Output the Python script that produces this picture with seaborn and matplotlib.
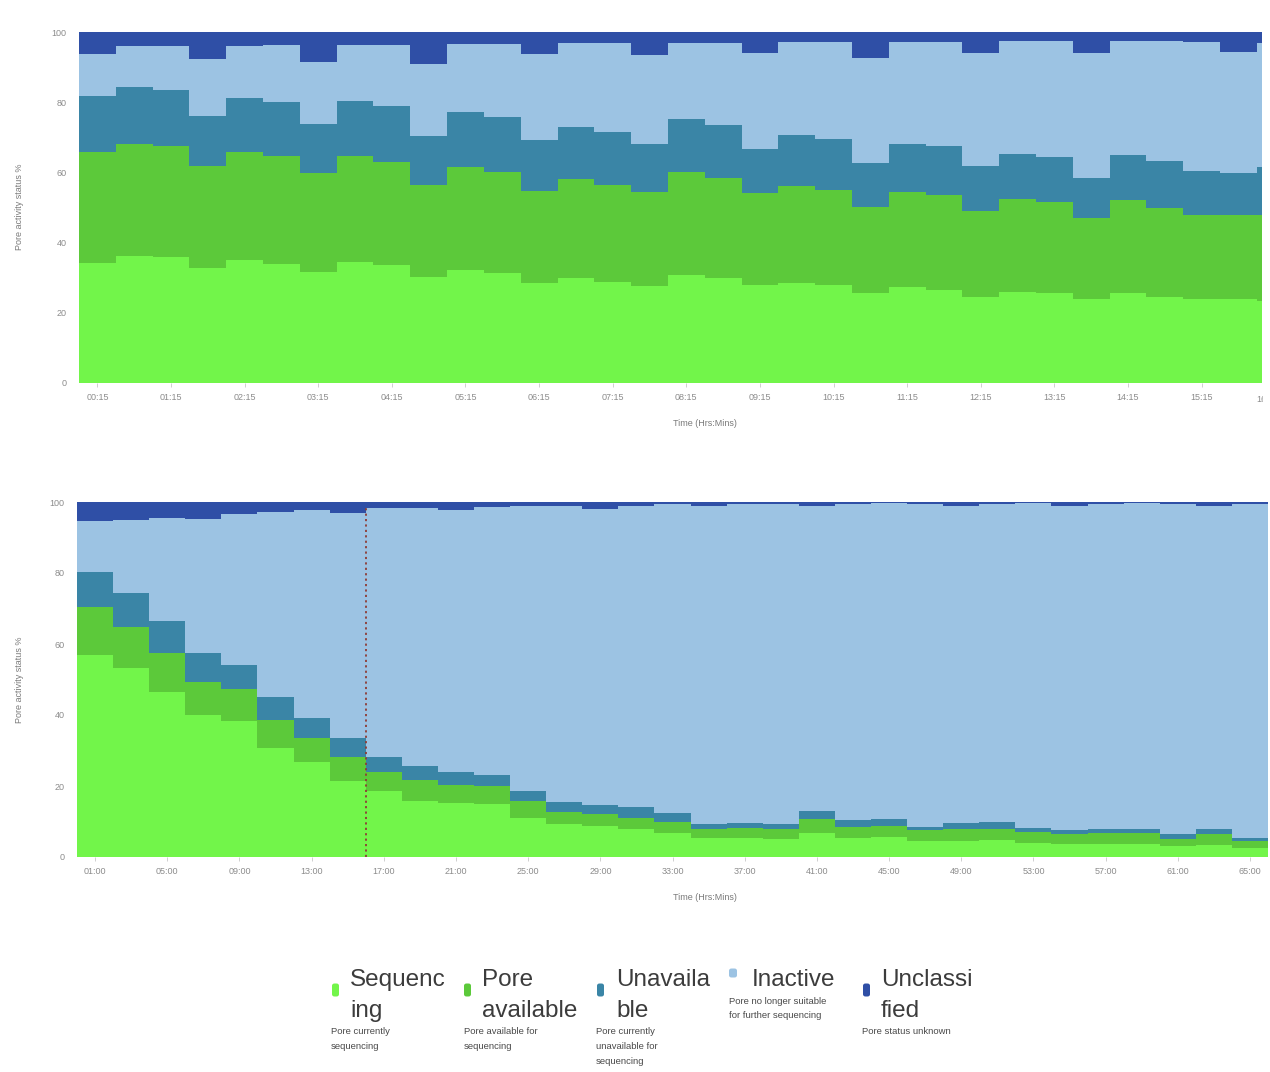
import numpy as np
import pandas as pd
import matplotlib
matplotlib.use("Agg")
import matplotlib.pyplot as plt
import seaborn as sns
from matplotlib.patches import FancyBboxPatch
from matplotlib.transforms import Bbox, TransformedBbox, blended_transform_factory

# ---------------------------------------------------------------- data
statuses = ["Sequencing", "Pore available", "Unavailable", "Inactive", "Unclassified"]
status_colors = ["#72f54a", "#5cc93a", "#3a85a6", "#9cc3e3", "#2f4fa6"]

# Run 1: 30-minute bins (bin centres in hours)
run1_centres = np.arange(0.25, 16.5, 0.5)
run1_sequencing = [34.3, 36.2, 35.9, 32.9, 35.1, 34.0, 31.7, 34.5, 33.6, 30.1, 32.1,
                   31.3, 28.4, 29.9, 28.9, 27.7, 30.7, 29.9, 28.0, 28.5, 27.8, 25.7,
                   27.3, 26.6, 24.5, 26.0, 25.7, 23.8, 25.7, 24.5, 23.8, 23.8, 23.5]
run1_available = [31.5, 31.9, 31.7, 29.0, 30.6, 30.8, 28.1, 30.1, 29.5, 26.2, 29.3,
                  28.7, 26.2, 28.2, 27.4, 26.6, 29.3, 28.6, 26.0, 27.6, 27.2, 24.5,
                  27.0, 26.9, 24.5, 26.3, 26.0, 23.1, 26.4, 25.3, 24.1, 24.1, 24.5]
run1_unavailable = [16.0, 16.3, 15.9, 14.3, 15.6, 15.2, 13.9, 15.6, 15.9, 14.2, 15.7,
                    15.7, 14.5, 14.8, 15.2, 13.7, 15.3, 15.1, 12.8, 14.6, 14.4, 12.6,
                    13.9, 14.0, 12.9, 13.0, 12.7, 11.4, 12.8, 13.4, 12.4, 11.8, 13.5]
run1_inactive = [11.8, 11.5, 12.5, 16.0, 14.7, 16.4, 17.8, 16.0, 17.2, 20.5, 19.6,
                 21.0, 24.5, 24.0, 25.4, 25.5, 21.7, 23.4, 27.1, 26.5, 27.8, 29.9,
                 29.0, 29.7, 32.2, 32.2, 33.1, 35.8, 32.6, 34.3, 36.9, 34.7, 35.5]
run1_unclassified = [6.4, 4.1, 4.0, 7.8, 4.0, 3.6, 8.5, 3.8, 3.8, 9.0, 3.3,
                     3.3, 6.4, 3.1, 3.1, 6.5, 3.0, 3.0, 6.1, 2.8, 2.8, 7.3,
                     2.8, 2.8, 5.9, 2.5, 2.5, 5.9, 2.5, 2.5, 2.8, 5.6, 3.0]
run1_ticks = ["00:15", "01:15", "02:15", "03:15", "04:15", "05:15", "06:15", "07:15",
              "08:15", "09:15", "10:15", "11:15", "12:15", "13:15", "14:15", "15:15",
              "16:15"]

# Run 2: 2-hour bins (bin centres in hours)
run2_centres = np.arange(1, 67, 2)
run2_sequencing = [56.9, 53.2, 46.6, 39.9, 38.2, 30.7, 26.8, 21.3, 18.5, 15.7, 15.3,
                   14.8, 11.0, 9.2, 8.7, 7.8, 6.8, 5.4, 5.4, 5.1, 6.8, 5.4,
                   5.7, 4.5, 4.5, 4.8, 4.0, 3.7, 3.7, 3.7, 3.1, 3.3, 2.6]
run2_available = [13.4, 11.7, 10.8, 9.4, 9.1, 7.8, 6.7, 6.8, 5.4, 6.1, 5.1,
                  5.1, 4.7, 3.4, 3.3, 3.2, 3.0, 2.4, 2.8, 2.9, 3.8, 3.1,
                  3.0, 3.0, 3.3, 3.2, 3.1, 2.9, 3.1, 3.1, 2.0, 3.1, 1.9]
run2_unavailable = [10.0, 9.5, 9.1, 8.1, 6.8, 6.7, 5.6, 5.4, 4.2, 3.8, 3.5,
                    3.3, 3.0, 2.8, 2.6, 3.2, 2.7, 1.4, 1.3, 1.4, 2.3, 1.8,
                    2.1, 1.0, 1.7, 1.8, 1.1, 1.0, 1.0, 1.0, 1.3, 1.6, 0.9]
run2_inactive = [14.4, 20.6, 29.1, 37.9, 42.4, 52.0, 58.6, 63.4, 70.3, 72.8, 73.9,
                 75.4, 80.1, 83.4, 83.5, 84.6, 87.0, 89.6, 90.0, 90.1, 85.9, 89.2,
                 88.8, 91.0, 89.4, 89.7, 91.4, 91.3, 91.7, 91.8, 93.1, 90.9, 94.1]
run2_unclassified = [5.3, 5.0, 4.4, 4.7, 3.5, 2.8, 2.3, 3.1, 1.6, 1.6, 2.2,
                     1.4, 1.2, 1.2, 1.9, 1.2, 0.5, 1.2, 0.5, 0.5, 1.2, 0.5,
                     0.4, 0.5, 1.1, 0.5, 0.4, 1.1, 0.5, 0.4, 0.5, 1.1, 0.5]
run2_ticks = ["01:00", "05:00", "09:00", "13:00", "17:00", "21:00", "25:00", "29:00",
              "33:00", "37:00", "41:00", "45:00", "49:00", "53:00", "57:00", "61:00",
              "65:00"]
run2_marker_hours = 16.0

legend_titles = ["Sequenc\ning", "Pore\navailable", "Unavaila\nble", "Inactive", "Unclassi\nfied"]
legend_notes = ["Pore currently\nsequencing", "Pore available for\nsequencing",
                "Pore currently\nunavailable for\nsequencing",
                "Pore no longer suitable\nfor further sequencing", "Pore status unknown"]

# ---------------------------------------------------------------- style
sns.set_style("white")
plt.rcParams["font.family"] = ["Liberation Sans", "DejaVu Sans"]

W, H = 1270, 1072
fig = plt.figure(figsize=(W / 100, H / 100), dpi=100)


def fx(px):
    return px / W


def fy(py):
    return 1 - py / H


palette = dict(zip(statuses, status_colors))
TICK_COLOR = "#8c8c8c"


def stacked_panel(ax, centres, width, shares, tick_pos, tick_labels, xmax):
    frame = pd.DataFrame({
        "time": np.tile(centres, len(statuses)),
        "status": np.repeat(statuses, len(centres)),
        "pct": np.concatenate(shares),
    })
    edges = [float(c - width / 2) for c in centres] + [float(centres[-1] + width / 2)]
    sns.histplot(frame, x="time", weights="pct", hue="status",
                 hue_order=statuses[::-1], palette=palette, bins=edges,
                 multiple="stack", element="bars", fill=True, alpha=1,
                 linewidth=0, legend=False, ax=ax)
    ax.set_xlim(0, xmax)
    ax.set_ylim(0, 100)
    ax.set_yticks([0, 20, 40, 60, 80, 100])
    ax.set_xticks(tick_pos)
    ax.set_xticklabels(tick_labels)
    ax.set_xlabel("")
    ax.set_ylabel("")
    for s in ax.spines.values():
        s.set_visible(False)
    ax.tick_params(axis="x", labelsize=6.5, colors=TICK_COLOR, length=3,
                   width=0.6, color="#c8c8c8", pad=4, bottom=True)
    ax.tick_params(axis="y", labelsize=6.5, colors=TICK_COLOR, length=0, pad=9)


# top panel
ax1 = fig.add_axes([fx(79), fy(383), fx(1262 - 79), (383 - 32) / H])
run1_shares = [run1_sequencing, run1_available, run1_unavailable, run1_inactive,
               run1_unclassified]
ax1_xmax = 16.07
visible = [(t, l) for t, l in zip(np.arange(0.25, 17, 1.0), run1_ticks) if t <= ax1_xmax]
stacked_panel(ax1, run1_centres, 0.5, run1_shares,
              [v[0] for v in visible], [v[1] for v in visible], ax1_xmax)
# last tick label runs off the right edge of the panel
last = ax1.text(16.14, -0.033, run1_ticks[-1],
                transform=blended_transform_factory(ax1.transData, ax1.transAxes),
                ha="center", va="top", fontsize=6.5, color=TICK_COLOR, clip_on=True)
last.set_clip_box(TransformedBbox(Bbox([[0, 0], [fx(1263), 1]]), fig.transFigure))

# bottom panel
ax2 = fig.add_axes([fx(77), fy(857), fx(1268 - 77), (857 - 502) / H])
run2_shares = [run2_sequencing, run2_available, run2_unavailable, run2_inactive,
               run2_unclassified]
stacked_panel(ax2, run2_centres, 2.0, run2_shares,
              np.arange(1, 66, 4), run2_ticks, 66)
ax2.axvline(run2_marker_hours, ymin=0, ymax=0.985, color="#8e3b35",
            linestyle=(0, (1.2, 1.8)), linewidth=1.3)

# axis titles
for yc, yl in [(207, 423), (680, 897)]:
    fig.text(fx(20), fy(yc), "Pore activity status %", rotation=90,
             ha="center", va="center", fontsize=6.5, color="#7a7a7a")
    fig.text(fx(705), fy(yl), "Time (Hrs:Mins)", ha="center", va="center",
             fontsize=6.5, color="#7a7a7a")

# ---------------------------------------------------------------- legend
marker_x = [332, 464, 597, 729, 863]
title_x = [350, 482, 616, 752, 881]
note_x = [331, 464, 596, 729, 862]
for i in range(len(statuses)):
    lines = legend_titles[i].split("\n")
    for j, line in enumerate(lines):
        fig.text(fx(title_x[i]), fy(986 + 31 * j), line, ha="left",
                 va="baseline", fontsize=17.5, color="#3c3c3c")
    if len(lines) == 1:
        mw, mh, my = 8, 9, 973
        note_top = 1001
    else:
        mw, mh, my = 7, 13, 990
        note_top = 1032
    fig.patches.append(FancyBboxPatch((fx(marker_x[i]), fy(my + mh / 2)),
                                      fx(mw), mh / H,
                                      boxstyle="round,pad=0,rounding_size=0.002",
                                      transform=fig.transFigure,
                                      facecolor=status_colors[i], edgecolor="none"))
    for j, line in enumerate(legend_notes[i].split("\n")):
        fig.text(fx(note_x[i]), fy(note_top + 14.5 * j), line, ha="left",
                 va="center", fontsize=6.8, color="#4a4a4a")

fig.savefig("out.png", dpi=100)
